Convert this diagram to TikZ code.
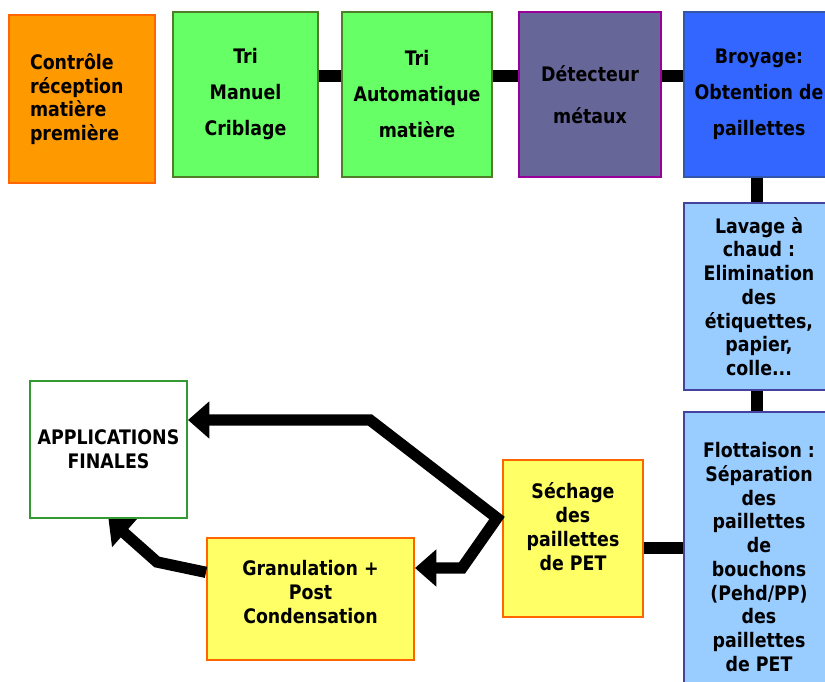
\documentclass[tikz,border=0pt]{standalone}
\usepackage{fontspec}
\setmainfont{DejaVu Sans}[FakeStretch=0.87]
\usetikzlibrary{arrows.meta, positioning, calc}

\definecolor{orangefill}{RGB}{255,153,0}
\definecolor{orangeline}{RGB}{255,102,0}
\definecolor{greenfill}{RGB}{102,255,102}
\definecolor{greenline}{RGB}{80,125,40}
\definecolor{violetfill}{RGB}{102,102,153}
\definecolor{violetline}{RGB}{153,0,153}
\definecolor{bluefill}{RGB}{51,102,255}
\definecolor{blueline}{RGB}{51,85,170}
\definecolor{skyfill}{RGB}{153,204,255}
\definecolor{skyline}{RGB}{68,68,160}
\definecolor{yellowfill}{RGB}{255,255,102}
\definecolor{appline}{RGB}{51,153,51}

\begin{document}
\begin{tikzpicture}[x=0.75pt, y=-0.75pt,
  box/.style={draw, rectangle, line width=1.5pt, inner sep=0pt, align=center,
    font=\bfseries\fontsize{15}{17.8}\selectfont},
  link/.style={line width=9pt},
  flow/.style={line width=8.5pt, line join=miter,
    {Triangle[length=16pt, width=27pt]}-{Triangle[length=16pt, width=27pt]}},
  single/.style={line width=8.5pt, line join=miter,
    -{Triangle[length=16pt, width=27pt]}}]
\useasboundingbox (0,0) rectangle (825,682);

% top row
\node[box, fill=orangefill, draw=orangeline, minimum width=109.5pt, minimum height=126pt,
  text width=78pt, align=left] (ctrl) at (82,99) {Contrôle\\réception\\matière\\première};
\node[box, fill=greenfill, draw=greenline, minimum width=108.75pt, minimum height=123.75pt,
  font=\bfseries\fontsize{15}{27}\selectfont] (trimanuel) at (245.5,94.5) {Tri\\Manuel\\Criblage};
\node[box, fill=greenfill, draw=greenline, minimum width=112.5pt, minimum height=123.75pt,
  font=\bfseries\fontsize{15}{27}\selectfont] (triauto) at (417,94.5) {Tri\\Automatique\\matière};
\node[box, fill=violetfill, draw=violetline, minimum width=106.5pt, minimum height=123.75pt,
  font=\bfseries\fontsize{15}{31.5}\selectfont] (detect) at (590,94.5) {Détecteur\\métaux};
\node[box, fill=bluefill, draw=blueline, minimum width=112.5pt, minimum height=123.75pt,
  font=\bfseries\fontsize{15}{27}\selectfont] (broyage) at (759,94.5) {Broyage:\\Obtention de\\paillettes};

% right column
\node[box, fill=skyfill, draw=skyline, minimum width=112.5pt, minimum height=140.25pt]
  (lavage) at (759,296.5) {Lavage à\\chaud :\\Elimination\\des\\étiquettes,\\papier,\\colle...};
\node[box, fill=skyfill, draw=skyline, minimum width=112.5pt, minimum height=217.5pt]
  (flott) at (759,557) {Flottaison :\\Séparation\\des\\paillettes\\de\\bouchons\\(Pehd/PP)\\des\\paillettes\\de PET};

% bottom part
\node[box, fill=yellowfill, draw=orangeline, minimum width=105pt, minimum height=117.75pt,
  text depth=18pt] (sechage) at (573,538.5) {Séchage\\des\\paillettes\\de PET};
\node[box, fill=yellowfill, draw=orangeline, minimum width=155.25pt, minimum height=91.5pt,
  text depth=10.5pt] (granul) at (310.5,599) {Granulation +\\Post\\Condensation};
\node[box, fill=white, draw=appline, minimum width=117.75pt, minimum height=102.75pt]
  (applic) at (108.5,449.5) {APPLICATIONS\\FINALES};

% connectors
\draw[link] ([yshift=14pt]trimanuel.east) -- ([yshift=14pt]triauto.west);
\draw[link] ([yshift=14pt]triauto.east) -- ([yshift=14pt]detect.west);
\draw[link] ([yshift=14pt]detect.east) -- ([yshift=14pt]broyage.west);
\draw[link] ([xshift=-1.5pt]broyage.south) -- ([xshift=-1.5pt]lavage.north);
\draw[link] ([xshift=-1.5pt]lavage.south) -- ([xshift=-1.5pt]flott.north);
\coordinate (sj) at ([yshift=-7pt]sechage.east);
\draw[link] (sj) -- (sj -| flott.west);

% arrows
\coordinate (fork) at (497,518);
\coordinate (upbend) at (370,420);
\coordinate (lowbend) at (462,568);
\coordinate (leftbend) at (157,562);
\draw[flow] (upbend -| applic.east) -- (upbend) -- (fork) -- (lowbend) -- (lowbend -| granul.east);
\draw[single] ([yshift=20pt]granul.west) -- (leftbend) -- (applic.south);
\end{tikzpicture}
\end{document}
